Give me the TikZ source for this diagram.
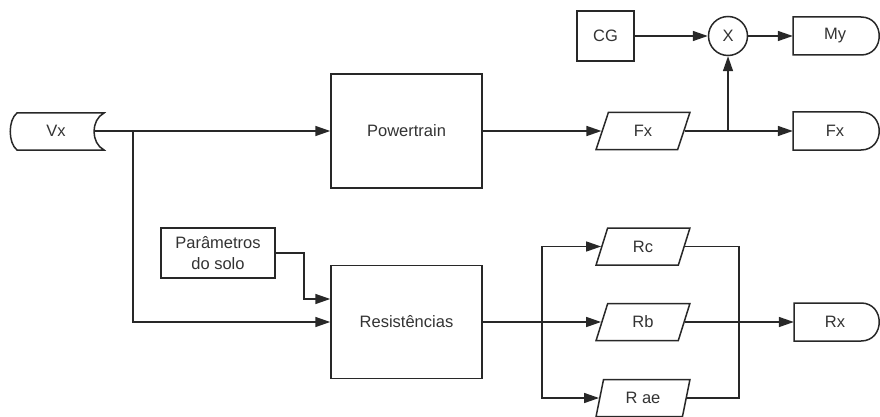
\documentclass[tikz,border=0pt]{standalone}
\usepackage{fontspec}
\setmainfont{Liberation Sans}
\usetikzlibrary{arrows.meta,shapes.geometric}
\definecolor{ink}{RGB}{40,40,40}
\definecolor{txt}{RGB}{51,51,51}
\begin{document}
\begin{tikzpicture}[x=1pt,y=-1pt,
  every node/.style={text=txt,font=\fontsize{16.5}{20.5}\selectfont},
  line/.style={draw=ink,line width=1.5pt},
  arr/.style={line,-{Triangle[length=15pt,width=10pt]}},
  boxnode/.style={line,rectangle,inner sep=0pt},
  para/.style={line,trapezium,trapezium left angle=74,trapezium right angle=106,
    trapezium stretches=true,minimum width=94pt,minimum height=37pt,inner sep=0pt},
  plain/.style={inner sep=0pt}]
\useasboundingbox (0,0) rectangle (880,417);
\fill[white] (0,0) rectangle (880,417);

% shapes drawn directly (stored data and terminator outlines)
\draw[line] (17,113) -- (104,113) .. controls (90.7,120) and (90.7,143) .. (104,150)
  -- (17,150) .. controls (8,143) and (8,120) .. (17,113) -- cycle;
\draw[line] (793,17) -- (861,17) .. controls (885.3,17) and (885.3,55) .. (861,55) -- (793,55) -- cycle;
\draw[line] (793,112) -- (861,112) .. controls (885.3,112) and (885.3,150) .. (861,150) -- (793,150) -- cycle;
\draw[line] (794,303) -- (861,303) .. controls (885.3,303) and (885.3,341) .. (861,341) -- (794,341) -- cycle;

% nodes
\node[plain,minimum width=78pt,minimum height=37pt] (vx) at (56,131) {Vx};
\node[boxnode,minimum width=151pt,minimum height=114pt] (pt) at (406.5,131) {Powertrain};
\node[boxnode,minimum width=151pt,minimum height=113pt] (res) at (406.5,322) {Resistências};
\node[boxnode,minimum width=114pt,minimum height=50pt,align=center] (ps) at (218,253) {Parâmetros\\do solo};
\node[boxnode,minimum width=57pt,minimum height=50pt] (cg) at (605.5,36) {CG};
\node[line,circle,minimum size=39pt,inner sep=0pt] (x) at (728,36) {X};
\node[para] (fx) at (643,131) {Fx};
\node[para] (rc) at (643,246.5) {Rc};
\node[para] (rb) at (643,322) {Rb};
\node[para] (rae) at (643,398) {R ae};
\node[plain,minimum width=84pt,minimum height=38pt] (my) at (835,36) {My};
\node[plain,minimum width=84pt,minimum height=38pt] (fxo) at (835,131) {Fx};
\node[plain,minimum width=82pt,minimum height=38pt] (rx) at (835,322) {Rx};

% branch points
\coordinate (b1) at (133,131);
\coordinate (b2) at (728,131);
\coordinate (b3) at (542,322);
\coordinate (b4) at (739,322);

% connectors
\draw[arr] (vx.east) -- (pt.west);
\draw[arr] (b1) |- (res.west);
\draw[arr] (ps.east) -- ++(28,0) |- ([yshift=23pt]res.west);
\draw[arr] (pt.east) -- (pt.east -| fx.west);
\draw[line] (b2 -| fx.east) -- (b2);
\draw[arr] (b2) -- (fxo.west);
\draw[arr] (b2) -- (x.south);
\draw[arr] (cg.east) -- (x.west);
\draw[arr] (x.east) -- (my.west);
\draw[arr] (res.east) -- (res.east -| rb.west);
\draw[arr] (b3) |- (rc.west);
\draw[arr] (b3) |- (rae.west);
\draw[line] (rc.east) -| (b4);
\draw[line] (rae.east) -| (b4);
\draw[arr] (b4 -| rb.east) -- (rx.west);
\end{tikzpicture}
\end{document}
